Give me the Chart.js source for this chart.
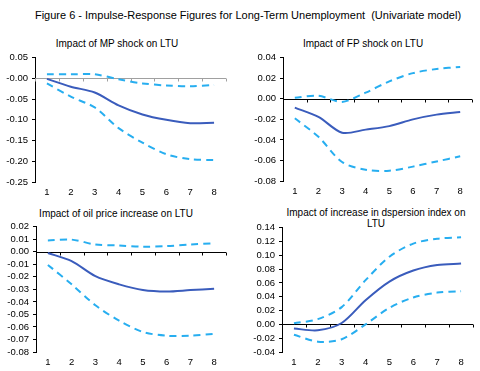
<!DOCTYPE html>
<html>
<head>
<meta charset="utf-8">
<script src="https://cdn.jsdelivr.net/npm/chart.js@4.4.1/dist/chart.umd.min.js"></script>
<style>
  body { margin: 0; background: #fff; }
  #page { position: relative; width: 480px; height: 371px; overflow: hidden; font-family: "Liberation Sans", Arial, sans-serif; color: #000; }
  .txt { position: absolute; white-space: nowrap; transform: translate(-50%, -50%); line-height: 11px; text-align: center; }
  .main { font-size: 11px; }
  .sub { font-size: 10px; }
  canvas { position: absolute; }
</style>
</head>
<body>
<div id="page">
  <div class="txt main" style="left:248px;top:15px">Figure 6 - Impulse-Response Figures for Long-Term Unemployment&nbsp; (Univariate model)</div>
  <div class="txt sub" style="left:117px;top:43px">Impact of MP shock on LTU</div>
  <div class="txt sub" style="left:363px;top:43px">Impact of FP shock on LTU</div>
  <div class="txt sub" style="left:116px;top:213px">Impact of oil price increase on LTU</div>
  <div class="txt sub" style="left:376px;top:218px">Impact of increase in dspersion index on<br>LTU</div>
  <canvas id="c1" width="232" height="150" style="left:0px;top:48px"></canvas>
  <canvas id="c2" width="230" height="149" style="left:248px;top:48px"></canvas>
  <canvas id="c3" width="231" height="151" style="left:1px;top:217px"></canvas>
  <canvas id="c4" width="232" height="150" style="left:247px;top:218px"></canvas>
</div>
<script>
// horizon (quarters)
const periods = ['1', '2', '3', '4', '5', '6', '7', '8'];

// MP shock
const mpMid   = [-0.001, -0.020, -0.034, -0.065, -0.087, -0.100, -0.108, -0.107];
const mpUpper = [0.010, 0.010, 0.010, -0.002, -0.012, -0.017, -0.019, -0.016];
const mpLower = [-0.012, -0.044, -0.070, -0.120, -0.155, -0.183, -0.195, -0.197];

// FP shock
const fpMid   = [-0.0086, -0.0176, -0.0330, -0.0300, -0.0266, -0.0200, -0.0154, -0.0128];
const fpUpper = [0.001, 0.003, -0.003, 0.006, 0.017, 0.025, 0.029, 0.031];
const fpLower = [-0.019, -0.037, -0.0615, -0.069, -0.070, -0.066, -0.061, -0.056];

// oil price increase
const oilMid   = [-0.001, -0.0075, -0.0195, -0.026, -0.0305, -0.0317, -0.0306, -0.0296];
const oilUpper = [0.0090, 0.0097, 0.0058, 0.0050, 0.0040, 0.0045, 0.0058, 0.0068];
const oilLower = [-0.0105, -0.026, -0.0427, -0.055, -0.064, -0.067, -0.067, -0.0655];

// dispersion index
const dispMid   = [-0.006, -0.0086, 0.002, 0.035, 0.062, 0.078, 0.086, 0.088];
const dispUpper = [0.0015, 0.0076, 0.025, 0.064, 0.098, 0.117, 0.124, 0.126];
const dispLower = [-0.015, -0.025, -0.0215, 0.000, 0.024, 0.039, 0.046, 0.048];

const midColor = '#3a5cbc';
const bandColor = '#27aef0';
const fontFamily = '"Liberation Sans", Arial, sans-serif';

// draws the horizontal axis through zero with tick marks between categories
const zeroAxis = {
    id: 'zeroAxis',
    beforeDatasetsDraw(chart, args, opts) {
        const { ctx, chartArea, scales } = chart;
        const y = Math.round(scales.y.getPixelForValue(0)) + 0.5;
        const n = chart.data.labels.length;
        const step = (chartArea.right - chartArea.left) / n;
        ctx.save();
        ctx.strokeStyle = opts.color || '#000';
        ctx.lineWidth = 1;
        ctx.beginPath();
        ctx.moveTo(chartArea.left, y);
        ctx.lineTo(chartArea.right, y);
        for (let i = 0; i <= n; i++) {
            const x = Math.round(chartArea.left + i * step) + 0.5;
            ctx.moveTo(x, y);
            ctx.lineTo(x, y + 3);
        }
        ctx.stroke();
        ctx.restore();
    }
};

function makeChart(id, mid, upper, lower, min, max, step, axisColor) {
    new Chart(document.getElementById(id), {
        type: 'line',
        data: {
            labels: periods,
            datasets: [
                { data: upper, borderColor: bandColor, borderWidth: 2, borderDash: [7, 5] },
                { data: lower, borderColor: bandColor, borderWidth: 2, borderDash: [7, 5] },
                { data: mid, borderColor: midColor, borderWidth: 2 }
            ]
        },
        options: {
            responsive: false,
            animation: false,
            devicePixelRatio: 1,
            layout: { padding: { top: 8, right: 6, bottom: 0, left: 0 } },
            elements: {
                point: { radius: 0 },
                line: { tension: 0.3, fill: false }
            },
            plugins: {
                legend: { display: false },
                tooltip: { enabled: false },
                zeroAxis: { color: axisColor }
            },
            scales: {
                x: {
                    offset: true,
                    grid: { display: false, drawTicks: false },
                    border: { display: false },
                    ticks: { color: '#000', padding: 5, maxRotation: 0, autoSkip: false, font: { family: fontFamily, size: 9.5 } },
                    afterFit(scale) { scale.height = 16; }
                },
                y: {
                    min: min,
                    max: max,
                    grid: { drawOnChartArea: false, drawTicks: true, tickLength: 3, color: '#000' },
                    border: { display: true, color: '#000', width: 1 },
                    ticks: {
                        stepSize: step,
                        autoSkip: false,
                        color: '#000',
                        padding: 4,
                        font: { family: fontFamily, size: 9.5 },
                        callback: v => v.toFixed(2)
                    },
                    afterFit(scale) { scale.width = 35; }
                }
            }
        },
        plugins: [zeroAxis]
    });
}

makeChart('c1', mpMid, mpUpper, mpLower, -0.25, 0.05, 0.05, '#a0a0a0');
makeChart('c2', fpMid, fpUpper, fpLower, -0.08, 0.04, 0.02, '#000');
makeChart('c3', oilMid, oilUpper, oilLower, -0.08, 0.02, 0.01, '#000');
makeChart('c4', dispMid, dispUpper, dispLower, -0.04, 0.14, 0.02, '#000');
</script>
</body>
</html>
